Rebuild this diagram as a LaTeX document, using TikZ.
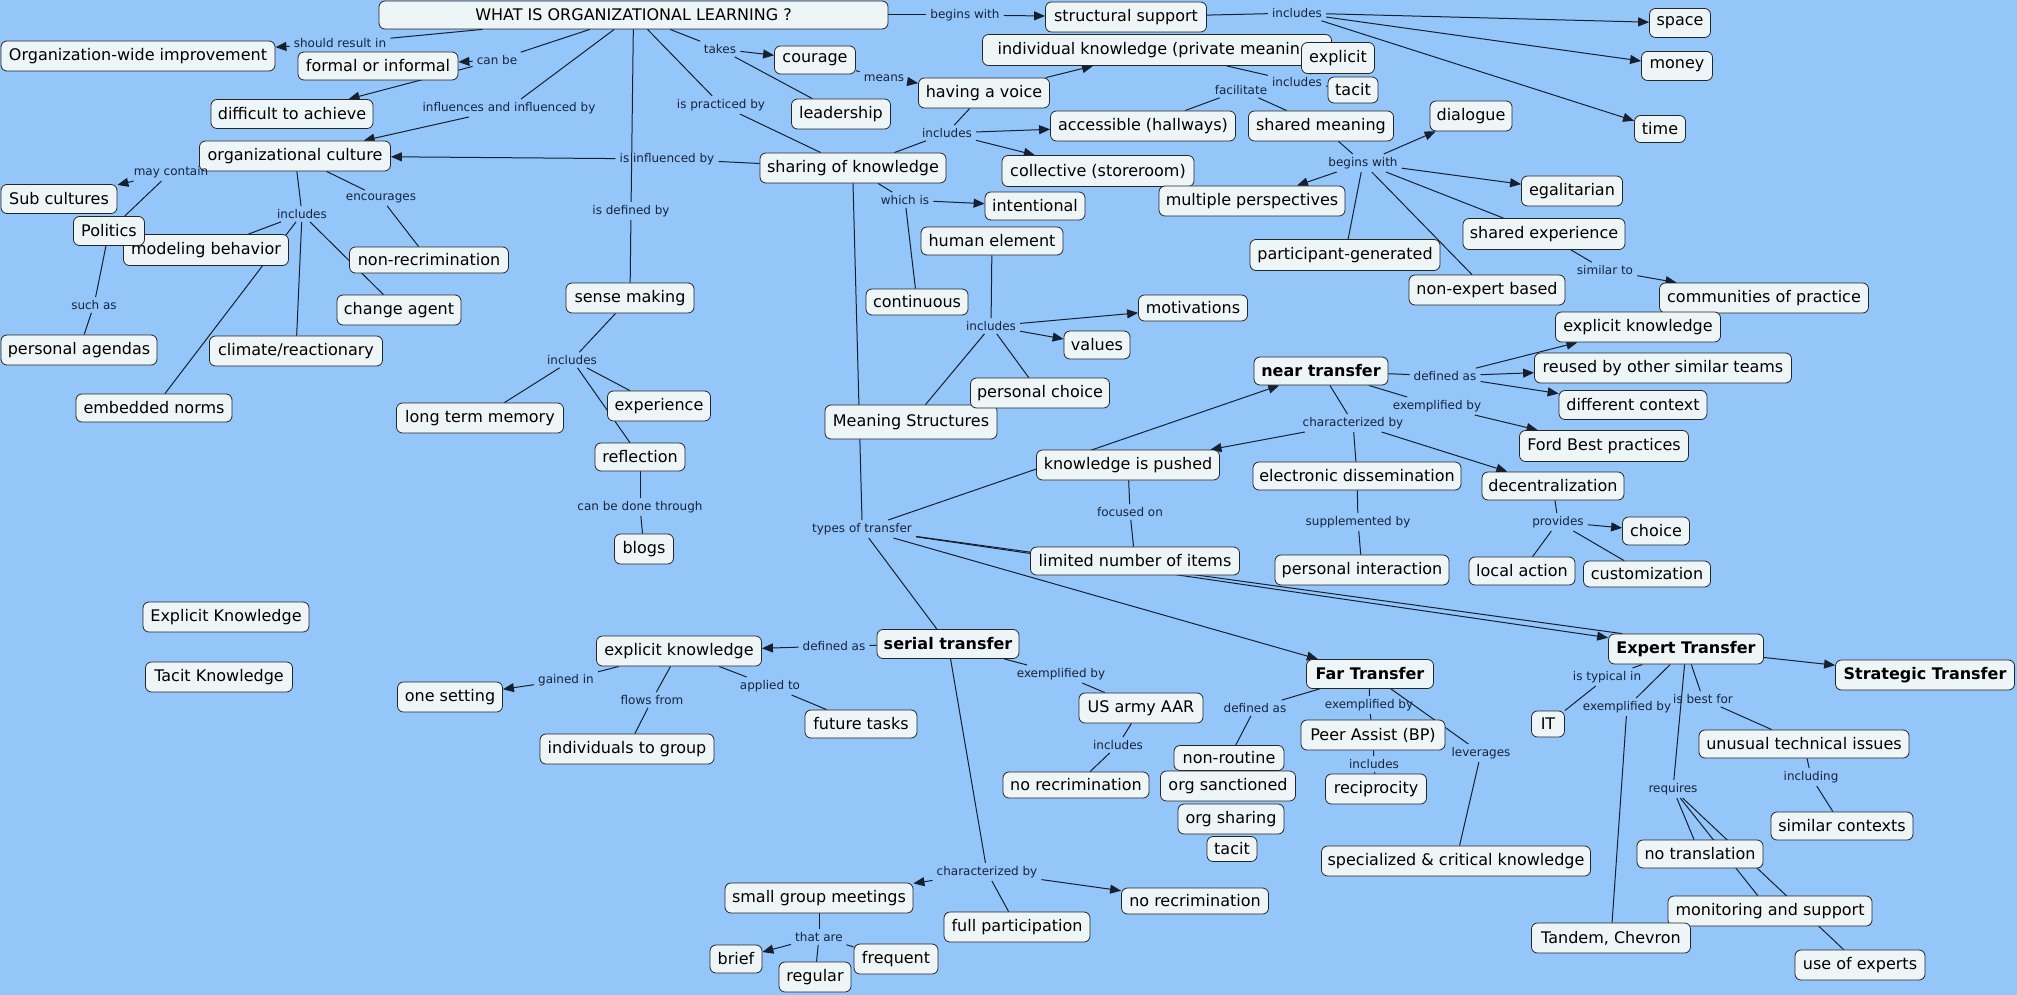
\documentclass[tikz,border=0pt]{standalone}
\usepackage{fontspec}
\setmainfont{DejaVu Sans}
\usetikzlibrary{arrows.meta,calc}
\definecolor{bgc}{RGB}{148,198,250}
\definecolor{nfill}{RGB}{238,245,247}
\definecolor{labc}{RGB}{24,36,58}
\definecolor{linec}{RGB}{22,32,46}
\pgfdeclarelayer{bglayer}
\pgfsetlayers{bglayer,main}
\tikzset{
 cn/.style={draw=black!85, line width=0.8pt, fill=nfill, rounded corners=6pt, inner xsep=3pt, inner ysep=2pt, font=\fontsize{16}{19}\selectfont, text=black},
 bn/.style={font=\fontsize{16}{19}\selectfont\bfseries},
 lab/.style={inner xsep=4pt, inner ysep=3pt, font=\fontsize{12}{14}\selectfont, text=labc},
 lk/.style={draw=linec, line width=1pt},
 ar/.style={lk, -{Triangle[length=11pt,width=9pt]}}
}
\newcommand{\cm}[7][]{\node[cn,#1,minimum width=#5pt,minimum height=#6pt] (#2) at (#3,#4) {#7};}
\newcommand{\lb}[4]{\node[lab] (#1) at (#2,#3) {#4};}
\newcommand{\eL}[2]{\draw[lk] (#1) -- (#2);}
\newcommand{\eA}[2]{\draw[ar] (#1) -- (#2);}
\begin{document}
\begin{tikzpicture}[x=1pt,y=-1pt]
\useasboundingbox (0,0) rectangle (2017,995);
\begin{pgfonlayer}{bglayer}
\fill[bgc] (0,0) rectangle (2017,995);
\end{pgfonlayer}
% ---------- concepts ----------
\cm{W}{633.5}{15}{509}{28}{WHAT IS ORGANIZATIONAL LEARNING ?}
\cm{owi}{138}{56}{274}{30}{Organization-wide improvement}
\cm{foi}{378}{66}{160}{28}{formal or informal}
\cm{dta}{292}{114}{162}{29}{difficult to achieve}
\cm{oc}{295}{156}{191}{30}{organizational culture}
\cm{subc}{59}{199}{116}{29}{Sub cultures}
\cm{mb}{206}{250}{165}{31}{modeling behavior}
\cm{pol}{109}{231}{71}{29}{Politics}
\cm{nonr}{429}{260}{159}{26}{non-recrimination}
\cm{chag}{399}{310}{124}{30}{change agent}
\cm{pa}{79}{350}{156}{30}{personal agendas}
\cm{clim}{296}{351}{173}{30}{climate/reactionary}
\cm{emb}{154}{408}{156}{28}{embedded norms}
\cm{ltm}{480}{418}{167}{30}{long term memory}
\cm{EK}{226}{617}{166}{30}{Explicit Knowledge}
\cm{TK}{219}{677}{147}{30}{Tacit Knowledge}
\cm{ones}{450}{697}{105}{30}{one setting}
\cm{cour}{815}{60}{81}{28}{courage}
\cm{lead}{841}{114}{99}{30}{leadership}
\cm{hav}{984}{93}{131}{30}{having a voice}
\cm{sok}{853}{168}{186}{30}{sharing of knowledge}
\cm{sm}{630}{298}{128}{30}{sense making}
\cm{cont}{917}{302}{102}{26}{continuous}
\cm{inten}{1035}{206}{100}{28}{intentional}
\cm{hum}{992}{241}{142}{28}{human element}
\cm{ss}{1126}{17}{161}{30}{structural support}
\cm{ik}{1157}{50}{349}{31}{individual knowledge (private meaning)}
\cm{expl}{1338}{58}{73}{31}{explicit}
\cm{tac}{1353}{90}{50}{26}{tacit}
\cm{acc}{1143}{126}{185}{30}{accessible (hallways)}
\cm{shm}{1321}{126}{145}{30}{shared meaning}
\cm{dia}{1471}{116}{82}{30}{dialogue}
\cm{coll}{1098}{171}{192}{31}{collective (storeroom)}
\cm{mp}{1252}{201}{186}{30}{multiple perspectives}
\cm{pg}{1345}{255}{190}{31}{participant-generated}
\cm{neb}{1487}{290}{156}{30}{non-expert based}
\cm{mot}{1193}{308}{109}{26}{motivations}
\cm{she}{1544}{234}{162}{31}{shared experience}
\cm{space}{1680}{23}{61}{29}{space}
\cm{money}{1677}{66}{71}{29}{money}
\cm{time}{1660}{129}{51}{27}{time}
\cm{egal}{1572}{191}{101}{30}{egalitarian}
\cm{cop}{1764}{298}{209}{30}{communities of practice}
\cm{ekn}{1638}{327}{165}{30}{explicit knowledge}
\cm{reu}{1663}{368}{257}{30}{reused by other similar teams}
\cm{dc}{1633}{405}{148}{29}{different context}
\cm{ford}{1604}{446}{169}{31}{Ford Best practices}
\cm{dec}{1553}{486}{142}{28}{decentralization}
\cm{choice}{1656}{531}{67}{28}{choice}
\cm{cust}{1647}{574}{127}{26}{customization}
\cm{la}{1522}{571}{106}{28}{local action}
\cm[bn]{expt}{1686}{649}{155}{30}{Expert Transfer}
\cm[bn]{strat}{1925}{675}{179}{30}{Strategic Transfer}
\cm{val}{1097}{345}{66}{28}{values}
\cm{ms}{911}{422}{172}{34}{Meaning Structures}
\cm{pc}{1040}{393}{139}{30}{personal choice}
\cm[bn]{near}{1321}{371}{134}{28}{near transfer}
\cm{kip}{1128}{465}{183}{30}{knowledge is pushed}
\cm{ed}{1357}{476}{208}{28}{electronic dissemination}
\cm{lni}{1135}{561}{209}{28}{limited number of items}
\cm{pi}{1362}{570}{174}{30}{personal interaction}
\cm[bn]{far}{1370}{674}{127}{29}{Far Transfer}
\cm{exp}{659}{406}{103}{30}{experience}
\cm{refl}{640}{457}{90}{28}{reflection}
\cm{blogs}{644}{549}{59}{30}{blogs}
\cm{eks}{679}{651}{165}{30}{explicit knowledge}
\cm[bn]{serial}{948}{644}{142}{29}{serial transfer}
\cm{itg}{627}{749}{174}{30}{individuals to group}
\cm{ft}{861}{724}{112}{28}{future tasks}
\cm{sgm}{819}{898}{188}{30}{small group meetings}
\cm{brief}{736}{959}{52}{28}{brief}
\cm{reg}{815}{977}{72}{30}{regular}
\cm{freq}{896}{959}{84}{30}{frequent}
\cm{fp}{1017}{927}{146}{30}{full participation}
\cm{usa}{1141}{708}{124}{30}{US army AAR}
\cm{nra}{1076}{785}{146}{26}{no recrimination}
\cm{nrout}{1229}{758}{110}{25}{non-routine}
\cm{orgs}{1228}{786}{135}{30}{org sanctioned}
\cm{orgsh}{1231}{819}{106}{30}{org sharing}
\cm{tacb}{1232}{849}{50}{25}{tacit}
\cm{peer}{1373}{735}{144}{30}{Peer Assist (BP)}
\cm{recip}{1376}{789}{101}{30}{reciprocity}
\cm{spec}{1456}{861}{269}{30}{specialized \& critical knowledge}
\cm{nrb}{1195}{901}{147}{26}{no recrimination}
\cm{IT}{1548}{724}{33}{26}{IT}
\cm{uti}{1804}{744}{210}{28}{unusual technical issues}
\cm{simc}{1842}{826}{142}{28}{similar contexts}
\cm{notr}{1700}{854}{126}{28}{no translation}
\cm{mas}{1770}{911}{204}{30}{monitoring and support}
\cm{tandem}{1611}{938}{159}{30}{Tandem, Chevron}
\cm{uoe}{1860}{965}{130}{30}{use of experts}
% ---------- linking phrases ----------
\lb{la1}{340}{43}{should result in}
\lb{la2}{497}{60}{can be}
\lb{la3}{509}{108}{influences and influenced by}
\lb{la4}{720}{49}{takes}
\lb{la5}{721}{105}{is practiced by}
\lb{la6}{667}{159}{is influenced by}
\lb{la7}{631}{211}{is defined by}
\lb{la8}{965}{15}{begins with}
\lb{la9}{884}{78}{means}
\lb{la10}{947}{133}{includes}
\lb{la11}{905}{200}{which is}
\lb{la12}{991}{326}{includes}
\lb{la13}{1297}{13}{includes}
\lb{la14}{1297}{82}{includes}
\lb{la15}{1241}{90}{facilitate}
\lb{la16}{1363}{163}{begins with}
\lb{la17}{1605}{270}{similar to}
\lb{la18}{171}{172}{may contain}
\lb{la19}{302}{214}{includes}
\lb{la20}{381}{198}{encourages}
\lb{la21}{94}{305}{such as}
\lb{la22}{572}{360}{includes}
\lb{la23}{640}{507}{can be done through}
\lb{la24}{862}{529}{types of transfer}
\lb{la25}{834}{646}{defined as}
\lb{la26}{566}{680}{gained in}
\lb{la27}{652}{700}{flows from}
\lb{la28}{770}{686}{applied to}
\lb{la29}{1061}{674}{exemplified by}
\lb{la30}{1118}{745}{includes}
\lb{la31}{987}{872}{characterized by}
\lb{la32}{819}{937}{that are}
\lb{la33}{1255}{708}{defined as}
\lb{la34}{1369}{705}{exemplified by}
\lb{la35}{1374}{764}{includes}
\lb{la36}{1481}{753}{leverages}
\lb{la37}{1130}{512}{focused on}
\lb{la38}{1353}{423}{characterized by}
\lb{la39}{1445}{376}{defined as}
\lb{la40}{1437}{406}{exemplified by}
\lb{la41}{1358}{522}{supplemented by}
\lb{la42}{1558}{522}{provides}
\lb{la43}{1607}{677}{is typical in}
\lb{la44}{1627}{707}{exemplified by}
\lb{la45}{1703}{699}{is best for}
\lb{la46}{1673}{789}{requires}
\lb{la47}{1811}{777}{including}
% ---------- connectors ----------
\begin{pgfonlayer}{bglayer}
\eL{W}{la1} \eA{la1}{owi}
\eL{W}{la2} \eA{la2}{foi} \eA{la2}{dta}
\eL{W}{la3} \eA{la3}{oc}
\eL{W}{la4} \eA{la4}{cour} \eL{la4}{lead}
\eL{W}{la5} \eL{la5}{sok}
\eL{W}{la7} \eL{la7}{sm}
\eL{W}{la8} \eA{la8}{ss}
\eL{cour}{la9} \eA{la9}{hav}
\eA{hav}{ik}
\eL{sok}{la10} \eL{hav}{la10} \eA{la10}{acc} \eA{la10}{coll}
\eL{sok}{la6} \eA{la6}{oc}
\eL{sok}{la11} \eA{la11}{inten} \eL{la11}{cont}
\draw[lk] (sok.south) -- (la24.north);
\eL{hum}{la12} \eA{la12}{mot} \eA{la12}{val} \eL{la12}{pc} \eL{la12}{ms}
\eL{ss}{la13} \eA{la13}{space} \eA{la13}{money} \eA{la13}{time}
\eL{ik}{la14} \eL{la14}{expl} \eL{la14}{tac}
\eL{acc}{la15} \eL{la15}{shm}
\eL{shm}{la16} \eA{la16}{dia} \eA{la16}{mp} \eA{la16}{egal} \eL{la16}{pg} \eL{la16}{neb} \eL{la16}{she}
\eL{she}{la17} \eA{la17}{cop}
\eA{la18}{subc} \eL{la18}{pol}
\eL{pol}{la21} \eL{la21}{pa}
\eL{oc}{la19} \eL{la19}{mb} \eL{la19}{emb} \eL{la19}{clim} \eL{la19}{chag}
\eL{oc}{la20} \eL{la20}{nonr}
\eL{sm}{la22} \eL{la22}{ltm} \eL{la22}{exp} \eL{la22}{refl}
\eL{refl}{la23} \eL{la23}{blogs}
\eA{la24}{near} \eL{la24}{serial} \eA{la24}{far} \eA{la24}{expt}
\draw[lk] (la24) -- ([xshift=14pt]expt.north west);
\eL{near}{la38} \eA{la38}{kip} \eL{la38}{ed} \eA{la38}{dec}
\eL{near}{la39} \eA{la39}{ekn} \eA{la39}{reu} \eA{la39}{dc}
\eL{near}{la40} \eA{la40}{ford}
\eL{ed}{la41} \eL{la41}{pi}
\eL{kip}{la37} \eL{la37}{lni}
\eL{dec}{la42} \eA{la42}{choice} \eL{la42}{la} \eL{la42}{cust}
\eL{serial}{la25} \eA{la25}{eks}
\eL{eks}{la26} \eA{la26}{ones}
\eL{eks}{la27} \eL{la27}{itg}
\eL{eks}{la28} \eL{la28}{ft}
\eL{serial}{la29} \eL{la29}{usa}
\eL{usa}{la30} \eL{la30}{nra}
\eL{serial}{la31} \eA{la31}{sgm} \eA{la31}{nrb} \eL{la31}{fp}
\eL{sgm}{la32} \eA{la32}{brief} \eL{la32}{reg} \eL{la32}{freq}
\eL{far}{la33} \eL{la33}{nrout}
\eL{far}{la34} \eL{la34}{peer}
\eL{peer}{la35} \eL{la35}{recip}
\eL{far}{la36} \eL{la36}{spec}
\eA{expt}{strat}
\eL{expt}{la43} \eL{la43}{IT}
\eL{expt}{la44} \eL{la44}{tandem}
\eL{expt}{la45} \eL{la45}{uti}
\eL{expt}{la46} \eL{la46}{notr} \eL{la46}{mas} \eL{la46}{uoe}
\eL{uti}{la47} \eL{la47}{simc}
\end{pgfonlayer}
\end{tikzpicture}
\end{document}
